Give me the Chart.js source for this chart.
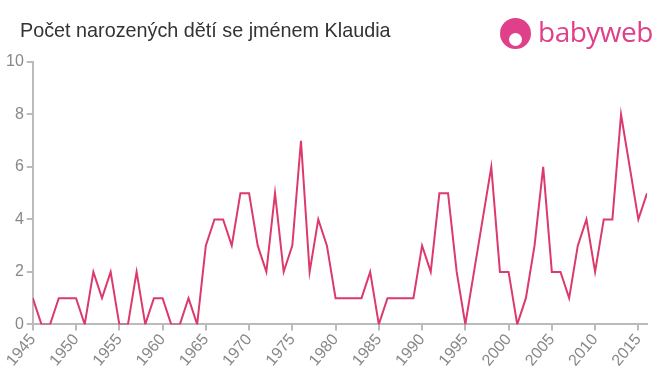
<!DOCTYPE html>
<html>
<head>
<meta charset="utf-8">
<script src="https://cdn.jsdelivr.net/npm/chart.js@4.4.1/dist/chart.umd.min.js"></script>
<style>
	body { margin: 0; background: #fff; font-family: 'Liberation Sans', Arial, sans-serif; }
	.wrap { position: relative; width: 660px; height: 375px; }
	.title { position: absolute; left: 20px; top: 19px; font-size: 19.8px; color: #333; }
	.logo { position: absolute; left: 500px; top: 16px; display: flex; align-items: center; }
	.logo-icon { width: 31px; height: 31px; border-radius: 50%; background: #e0408a; position: relative; }
	.logo-icon::after { content: ''; position: absolute; left: 9px; top: 15px; width: 13px; height: 13px; border-radius: 50%; background: #fff; }
	.logo-text { margin-left: 7px; font-size: 28px; color: #e0408a; font-family: 'Open Sans', sans-serif; letter-spacing: -0.5px; margin-top: -4px; }
	canvas { position: absolute; left: 0; top: 0; }
</style>
</head>
<body>
<div class="wrap">
	<canvas id="births-chart" width="660" height="375"></canvas>
	<div class="title">Počet narozených dětí se jménem Klaudia</div>
	<div class="logo"><div class="logo-icon"></div><div class="logo-text">babyweb</div></div>
</div>
<script>
const years = [1945, 1946, 1947, 1948, 1949, 1950, 1951, 1952, 1953, 1954, 1955, 1956, 1957, 1958, 1959,
	1960, 1961, 1962, 1963, 1964, 1965, 1966, 1967, 1968, 1969, 1970, 1971, 1972, 1973, 1974, 1975, 1976,
	1977, 1978, 1979, 1980, 1981, 1982, 1983, 1984, 1985, 1986, 1987, 1988, 1989, 1990, 1991, 1992, 1993,
	1994, 1995, 1996, 1997, 1998, 1999, 2000, 2001, 2002, 2003, 2004, 2005, 2006, 2007, 2008, 2009, 2010,
	2011, 2012, 2013, 2014, 2015, 2016];
const births = [1, 0, 0, 1, 1, 1, 0, 2, 1, 2, 0, 0, 2, 0, 1,
	1, 0, 0, 1, 0, 3, 4, 4, 3, 5, 5, 3, 2, 5, 2, 3, 7,
	2, 4, 3, 1, 1, 1, 1, 2, 0, 1, 1, 1, 1, 3, 2, 5, 5,
	2, 0, 2, 4, 6, 2, 2, 0, 1, 3, 6, 2, 2, 1, 3, 4, 2,
	4, 4, 8, 6, 4, 5];
const xTicks = [1945, 1950, 1955, 1960, 1965, 1970, 1975, 1980, 1985, 1990, 1995, 2000, 2005, 2010, 2015];
const yTicks = [0, 2, 4, 6, 8, 10];

const lineColor = '#dc3a6c';
const axisColor = '#bbbbbb';
const tickColor = '#888888';

new Chart(document.getElementById('births-chart'), {
	type: 'line',
	data: {
		datasets: [{
			data: years.map((y, i) => ({ x: y, y: births[i] })),
			borderColor: lineColor,
			borderWidth: 2,
			pointRadius: 0,
			tension: 0
		}]
	},
	options: {
		responsive: false,
		animation: false,
		layout: { padding: { top: 62, right: 13, left: 3, bottom: 5 } },
		plugins: { legend: { display: false }, tooltip: { enabled: false } },
		scales: {
			x: {
				type: 'linear',
				min: 1945,
				max: 2016,
				afterBuildTicks: axis => {
					axis.ticks = xTicks.map(v => ({ value: v }));
				},
				ticks: {
					color: tickColor,
					font: { size: 16 },
					maxRotation: 50,
					minRotation: 50,
					padding: 0,
					callback: v => String(v)
				},
				grid: { drawOnChartArea: false, color: axisColor, tickLength: 6, lineWidth: 2 },
				border: { color: axisColor, width: 2 }
			},
			y: {
				min: 0,
				max: 10,
				afterBuildTicks: axis => {
					axis.ticks = yTicks.map(v => ({ value: v }));
				},
				ticks: { color: tickColor, font: { size: 16 }, padding: 3 },
				grid: { drawOnChartArea: false, color: axisColor, tickLength: 6, lineWidth: 2 },
				border: { color: axisColor, width: 2 }
			}
		}
	}
});
</script>
</body>
</html>
